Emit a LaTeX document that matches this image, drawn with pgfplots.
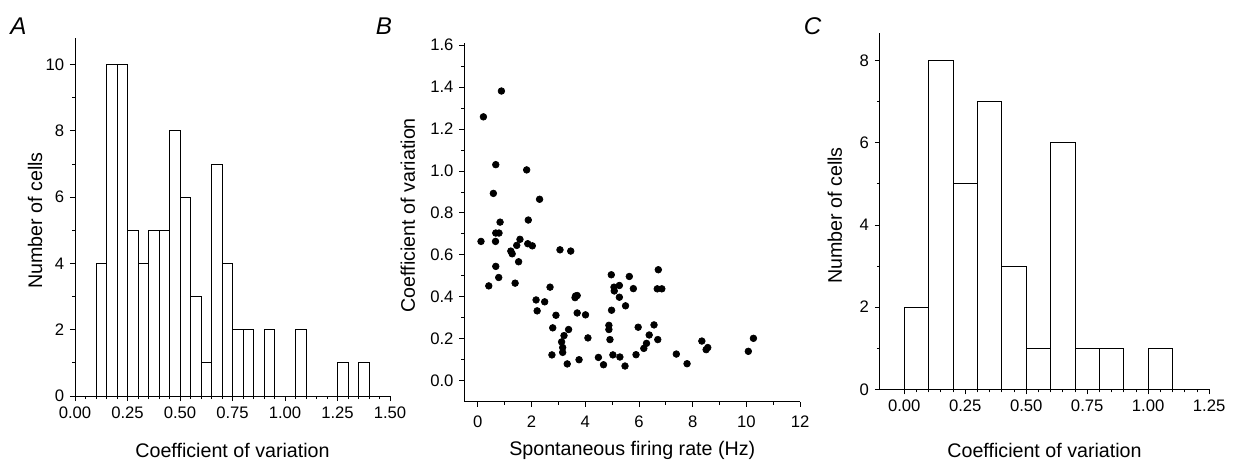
\documentclass[border=0pt]{standalone}
\usepackage{fontspec}
\setmainfont{Liberation Sans}
\usepackage{pgfplots}
\pgfplotsset{compat=1.18}

\newcommand{\labfont}{\fontsize{11.8}{13}\selectfont}
\pgfplotsset{
  myaxis/.style={
    scale only axis,
    axis lines=left,
    axis line style={-, line width=0.6pt},
    tick align=outside,
    major tick length=3pt,
    minor tick length=1.8pt,
    every tick/.style={black, line width=0.5pt},
    tick label style={font=\fontsize{10}{11}\selectfont},
    /pgf/number format/assume math mode=true,
    anchor=south west,
    clip=false,
  },
  twodec/.style={xticklabel style={/pgf/number format/.cd, fixed, fixed zerofill, precision=2}},
}

\begin{document}
\begin{tikzpicture}
\useasboundingbox (0,0) rectangle (740.4pt,-275.4pt);

\node[font=\fontsize{14.5}{15}\selectfont\itshape] at (11pt,-15.5pt) {A};
\node[font=\fontsize{14.5}{15}\selectfont\itshape] at (230.4pt,-15.5pt) {B};
\node[font=\fontsize{14.5}{15}\selectfont\itshape] at (487.5pt,-15.5pt) {C};

% Panel A
\begin{axis}[myaxis, twodec,
  at={(45pt,-237.6pt)}, width=189pt, height=214.8pt,
  xmin=0, xmax=1.5, ymin=0, ymax=10.8,
  xtick={0,0.25,0.5,0.75,1,1.25,1.5}, minor x tick num=4,
  ytick={0,2,4,6,8,10}, minor y tick num=1,
  xlabel={Coefficient of variation},
  ylabel={Number of cells},
  every axis x label/.style={at={(axis description cs:0.5,0)}, anchor=center, yshift=-32.4pt, font=\labfont},
  every axis y label/.style={at={(axis description cs:-0.127,0.49)}, anchor=center, rotate=90, font=\labfont},
]
\addplot[ybar interval, fill=white, draw=black, line width=0.5pt] coordinates {
(0.10,4) (0.15,10) (0.20,10) (0.25,5) (0.30,4) (0.35,5) (0.40,5) (0.45,8)
(0.50,6) (0.55,3) (0.60,1) (0.65,7) (0.70,4) (0.75,2) (0.80,2) (0.85,0)
(0.90,2) (0.95,0) (1.00,0) (1.05,2) (1.10,0) (1.15,0) (1.20,0) (1.25,1)
(1.30,0) (1.35,1) (1.40,0)
};
\end{axis}

% Panel B
\begin{axis}[myaxis,
  at={(278.6pt,-241.0pt)}, width=201.5pt, height=215.2pt,
  xmin=-0.5, xmax=12, ymin=-0.1, ymax=1.61,
  xtick={0,2,4,6,8,10,12}, minor x tick num=1,
  ytick={0,0.2,0.4,0.6,0.8,1.0,1.2,1.4,1.6}, minor y tick num=1,
  yticklabel style={/pgf/number format/.cd, fixed, fixed zerofill, precision=1},
  xticklabel style={yshift=-2pt},
  xlabel={Spontaneous firing rate (Hz)},
  ylabel={Coefficient of variation},
  every axis x label/.style={at={(axis description cs:0.5,0)}, anchor=center, yshift=-29pt, font=\labfont},
  every axis y label/.style={at={(axis description cs:-0.168,0.52)}, anchor=center, rotate=90, font=\labfont},
]
\addplot[only marks, mark=*, mark size=2pt, black] coordinates {
(0.12,0.664) (0.21,1.258) (0.88,1.381) (0.41,0.452) (0.58,0.893) (0.67,1.030)
(0.66,0.664) (0.67,0.704) (0.79,0.704) (0.83,0.756) (0.67,0.545) (0.78,0.492)
(1.23,0.618) (1.28,0.605) (1.45,0.645) (1.57,0.674) (1.52,0.567) (1.39,0.465)
(1.82,1.005) (1.88,0.766) (1.86,0.653) (2.03,0.643) (2.30,0.865) (2.17,0.385)
(2.21,0.333) (2.49,0.376) (2.69,0.446) (2.91,0.312) (2.79,0.252) (2.76,0.123)
(3.06,0.624) (3.46,0.618) (3.12,0.185) (3.16,0.158) (3.16,0.135) (3.21,0.215)
(3.38,0.244) (3.33,0.080) (3.64,0.404) (3.70,0.406) (3.62,0.396) (3.70,0.323)
(4.01,0.314) (3.77,0.100) (4.10,0.204) (4.49,0.111) (4.68,0.076) (4.88,0.264)
(4.88,0.244) (4.92,0.196) (4.97,0.505) (4.98,0.336) (5.03,0.123) (5.07,0.446)
(5.08,0.428) (5.27,0.454) (5.27,0.398) (5.29,0.113) (5.50,0.357) (5.48,0.070)
(5.64,0.497) (5.79,0.439) (5.89,0.124) (5.97,0.255) (6.18,0.154) (6.28,0.178)
(6.38,0.218) (6.56,0.266) (6.72,0.529) (6.68,0.438) (6.85,0.438) (6.70,0.196)
(7.39,0.127) (7.79,0.081) (8.34,0.189) (8.50,0.148) (8.56,0.158) (10.07,0.140)
(10.26,0.202)
};
\end{axis}

% Panel C
\begin{axis}[myaxis, twodec,
  at={(527.9pt,-233.6pt)}, width=197.6pt, height=213.8pt,
  xmin=-0.1, xmax=1.25, ymin=0, ymax=8.67,
  xtick={0,0.25,0.5,0.75,1,1.25}, minor x tick num=4,
  ytick={0,2,4,6,8}, minor y tick num=1,
  xlabel={Coefficient of variation},
  ylabel={Number of cells},
  every axis x label/.style={at={(axis description cs:0.5,0)}, anchor=center, yshift=-36.4pt, font=\labfont},
  every axis y label/.style={at={(axis description cs:-0.137,0.488)}, anchor=center, rotate=90, font=\labfont},
]
\addplot[ybar interval, fill=white, draw=black, line width=0.5pt] coordinates {
(0.0,2) (0.1,8) (0.2,5) (0.3,7) (0.4,3) (0.5,1) (0.6,6) (0.7,1) (0.8,1)
(0.9,0) (1.0,1) (1.1,0)
};
\end{axis}
\end{tikzpicture}
\end{document}
